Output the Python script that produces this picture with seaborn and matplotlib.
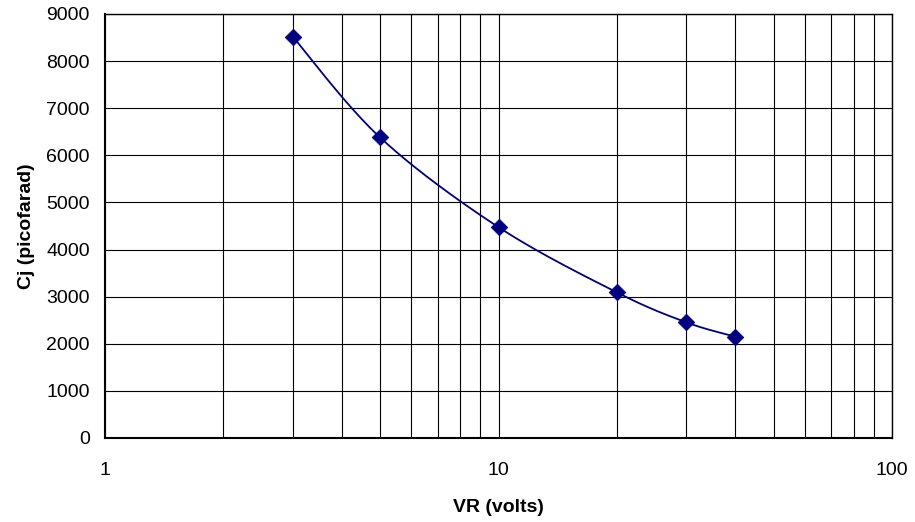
import numpy as np
import pandas as pd
import matplotlib
matplotlib.use("Agg")
import matplotlib.pyplot as plt
from matplotlib.ticker import LogLocator, FixedLocator, NullFormatter, FixedFormatter
import seaborn as sns

# Data
vr_volts = [3, 5, 10, 20, 30, 40]
cj_pf = [8520, 6380, 4475, 3090, 2455, 2150]
x_tick_labels = ["1", "10", "100"]
y_ticks = [0, 1000, 2000, 3000, 4000, 5000, 6000, 7000, 8000, 9000]

sns.set_theme(style="white")
plt.rcParams["font.family"] = ["Liberation Sans", "DejaVu Sans"]

W, H = 915, 522
fig = plt.figure(figsize=(W / 100, H / 100), dpi=100)
ax_l, ax_r, ax_t, ax_b = 105, 892, 14, 438
ax = fig.add_axes([ax_l / W, (H - ax_b) / H, (ax_r - ax_l) / W, (ax_b - ax_t) / H])

# Excel-style smoothed line: Bezier through points in screen space
pw, ph = ax_r - ax_l, ax_b - ax_t
u = np.log10(np.array(vr_volts, float)) / 2.0 * pw
v = np.array(cj_pf, float) / 9000.0 * ph
P = np.column_stack([u, v])
n = len(P)
curve = []
t = np.linspace(0, 1, 40)
for i in range(n - 1):
    p0 = P[i]
    p3 = P[i + 1]
    prev = P[i - 1] if i > 0 else P[i]
    nxt = P[i + 2] if i + 2 < n else P[i + 1]
    p1 = p0 + (p3 - prev) / 6.0
    p2 = p3 - (nxt - p0) / 6.0
    seg = ((1 - t) ** 3)[:, None] * p0 + (3 * (1 - t) ** 2 * t)[:, None] * p1 \
        + (3 * (1 - t) * t ** 2)[:, None] * p2 + (t ** 3)[:, None] * p3
    curve.append(seg if i == 0 else seg[1:])
curve = np.vstack(curve)
cx = 10 ** (curve[:, 0] / pw * 2.0)
cy = curve[:, 1] / ph * 9000.0
curve_df = pd.DataFrame({"VR": cx, "Cj": cy})
pts_df = pd.DataFrame({"VR": vr_volts, "Cj": cj_pf})

navy = "#000080"
sns.lineplot(data=curve_df, x="VR", y="Cj", sort=False, color=navy, lw=1.3, ax=ax, zorder=3)
sns.scatterplot(data=pts_df, x="VR", y="Cj", marker="D", s=72, color=navy,
                edgecolor=navy, linewidth=0.5, ax=ax, zorder=4)

ax.set_xscale("log")
ax.set_xlim(1, 100)
ax.set_ylim(0, 9000)

ax.xaxis.set_major_locator(FixedLocator([1, 10, 100]))
ax.xaxis.set_major_formatter(FixedFormatter(x_tick_labels))
ax.xaxis.set_minor_locator(LogLocator(base=10, subs=np.arange(2, 10)))
ax.xaxis.set_minor_formatter(NullFormatter())
ax.yaxis.set_major_locator(FixedLocator(y_ticks))
ax.set_yticklabels([str(v) for v in y_ticks])

ax.grid(True, which="major", axis="both", color="black", lw=0.8)
ax.grid(True, which="minor", axis="x", color="black", lw=0.8)
ax.set_axisbelow(True)

ax.tick_params(axis="both", which="major", direction="inout", length=10, width=0.8,
               color="black", labelsize=14, labelcolor="black")
ax.tick_params(axis="x", which="major", pad=12)
ax.tick_params(axis="y", which="major", pad=6)
ax.tick_params(axis="x", which="minor", length=0)

for sp in ax.spines.values():
    sp.set_color("black")
    sp.set_linewidth(1.0)
    sp.set_visible(True)
ax.spines["left"].set_linewidth(1.5)
ax.spines["bottom"].set_linewidth(1.5)

ax.set_xlabel("VR (volts)", fontsize=14, fontweight="bold", color="black", labelpad=15)
ax.set_ylabel("Cj (picofarad)", fontsize=14, fontweight="bold", color="black", labelpad=8)

fig.savefig("out.png", dpi=100, facecolor="white")
